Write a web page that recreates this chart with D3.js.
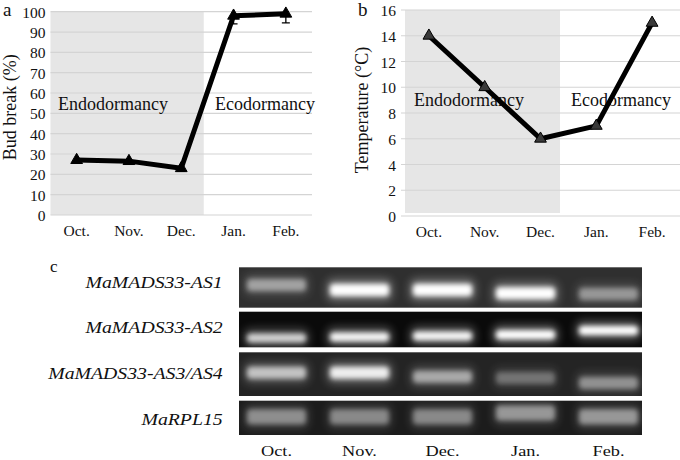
<!DOCTYPE html>
<html>
<head>
<meta charset="utf-8">
<script src="https://cdn.jsdelivr.net/npm/d3@7"></script>
<style>
  body { margin: 0; background: #fff; }
</style>
</head>
<body>
<svg id="fig" width="680" height="460"></svg>
<script>
// data
var months = ['Oct.', 'Nov.', 'Dec.', 'Jan.', 'Feb.'];
var budBreak = [27, 26.5, 23, 98, 99];
var budBreakErr = [1.5, 1.5, 1.5, 4, 4.5];
var budTicks = [0, 10, 20, 30, 40, 50, 60, 70, 80, 90, 100];
var temperature = [14, 10, 6, 7, 15];
var tempTicks = [0, 2, 4, 6, 8, 10, 12, 14, 16];

var genes = ['MaMADS33-AS1', 'MaMADS33-AS2', 'MaMADS33-AS3/AS4', 'MaRPL15'];
var as1 = [0.45, 1, 1, 0.95, 0.4];
var as2 = [0.72, 0.9, 0.9, 1, 0.95];
var as34 = [0.62, 0.85, 0.5, 0.28, 0.4];
var rpl15 = [0.4, 0.38, 0.38, 0.44, 0.44];
// band migration, fraction down the gel strip
var as1Mob = [0.44, 0.56, 0.56, 0.64, 0.66];
var as2Mob = [0.74, 0.71, 0.68, 0.65, 0.53];
var as34Mob = [0.47, 0.47, 0.56, 0.59, 0.7];
var rpl15Mob = [0.47, 0.47, 0.47, 0.36, 0.47];

var serif = 'Liberation Serif';
var svg = d3.select('#fig');

//Line chart panel (a and b)
function linePanel(opt) {
  var g = svg.append('g');
  var x = d3.scaleBand().domain(months).range(opt.xr);
  var y = d3.scaleLinear().domain([0, opt.ymax]).range(opt.yr);

  g.append('rect')
    .attr('x', opt.xr[0] + opt.shadeL)
    .attr('y', y(opt.ymax))
    .attr('width', x.bandwidth() * opt.shadeBands - opt.shadeL)
    .attr('height', y(0) - y(opt.ymax) - opt.shadeB)
    .attr('fill', '#e6e6e6');

  g.selectAll('.grid')
    .data(opt.ticks)
    .enter().append('line')
    .attr('x1', opt.xr[0]).attr('x2', opt.xr[1])
    .attr('y1', function(d) { return y(d); })
    .attr('y2', function(d) { return y(d); })
    .attr('stroke', '#d4d4d4')
    .attr('stroke-width', 1.2);

  var ya = g.append('g')
    .attr('transform', 'translate(' + [opt.xr[0] - 5, 0] + ')')
    .call(d3.axisLeft(y).tickValues(opt.ticks).tickSize(0).tickPadding(0));
  ya.attr('font-family', serif).attr('font-size', 15.5);
  ya.select('.domain').remove();
  ya.selectAll('text').attr('fill', '#111').attr('dy', '0.36em');

  var xa = g.append('g')
    .attr('transform', 'translate(' + [0, y(0) + 7] + ')')
    .call(d3.axisBottom(x).tickSize(0).tickPadding(0));
  xa.attr('font-family', serif).attr('font-size', 15.5);
  xa.select('.domain').remove();
  xa.selectAll('text').attr('fill', '#111').attr('dy', '0.9em');

  g.append('text')
    .text('Endodormancy')
    .attr('x', opt.endoX).attr('y', opt.phaseY)
    .attr('font-family', serif).attr('font-size', 18).attr('fill', '#111');
  g.append('text')
    .text('Ecodormancy')
    .attr('x', opt.ecoX).attr('y', opt.phaseY)
    .attr('font-family', serif).attr('font-size', 18).attr('fill', '#111');

  g.append('text')
    .text(opt.ylabel)
    .attr('text-anchor', 'middle')
    .attr('transform', 'translate(' + [opt.ylabX, (opt.yr[0] + opt.yr[1]) / 2 + opt.ylabDy] + ') rotate(-90)')
    .attr('font-family', serif).attr('font-size', 18).attr('fill', '#111');

  g.append('text')
    .text(opt.tag)
    .attr('x', opt.tagX).attr('y', 16)
    .attr('font-family', serif).attr('font-size', 19).attr('fill', '#111');

  var cx = function(d, i) { return x(months[i]) + x.bandwidth() / 2; };

  if (opt.err) {
    g.selectAll('.err')
      .data(opt.values)
      .enter().append('path')
      .attr('d', function(d, i) {
        var px = cx(d, i), lo = y(d - opt.err[i]), hi = y(Math.min(d + opt.err[i], opt.ymax));
        return 'M' + px + ',' + hi + 'V' + lo + 'M' + (px - 4) + ',' + lo + 'H' + (px + 4);
      })
      .attr('stroke', '#000')
      .attr('stroke-width', 1.3)
      .attr('fill', 'none');
  }

  g.append('path')
    .datum(opt.values)
    .attr('d', d3.line().x(cx).y(function(d) { return y(d); }))
    .attr('fill', 'none')
    .attr('stroke', '#000')
    .attr('stroke-width', 5)
    .attr('stroke-linejoin', 'round');

  g.selectAll('.pt')
    .data(opt.values)
    .enter().append('path')
    .attr('d', d3.symbol().type(d3.symbolTriangle).size(opt.markSize))
    .attr('transform', function(d, i) { return 'translate(' + [cx(d, i), y(d)] + ')'; })
    .attr('fill', opt.markFill)
    .attr('stroke', '#000')
    .attr('stroke-width', 1);
}

linePanel({
  xr: [50.5, 312], yr: [215, 11.7], ymax: 100, ticks: budTicks,
  values: budBreak, err: budBreakErr,
  shadeL: 0, shadeB: 0, shadeBands: 2.93,
  endoX: 58, ecoX: 215, phaseY: 110,
  ylabel: 'Bud break (%)', ylabX: 15.5, ylabDy: -6,
  tag: 'a', tagX: 3,
  markSize: 60, markFill: '#000'
});

linePanel({
  xr: [401, 680], yr: [216, 10], ymax: 16, ticks: tempTicks,
  values: temperature, err: null,
  shadeL: 4, shadeB: 3, shadeBands: 2.85,
  endoX: 414, ecoX: 571, phaseY: 106,
  ylabel: 'Temperature (\u00B0C)', ylabX: 368, ylabDy: -3,
  tag: 'b', tagX: 358,
  markSize: 60, markFill: '#3a3a3a'
});

//Gel panel (c)
var defs = svg.append('defs');
defs.append('filter').attr('id', 'blurCore').attr('x', '-20%').attr('y', '-100%').attr('width', '140%').attr('height', '300%')
  .append('feGaussianBlur').attr('stdDeviation', 2.5);
defs.append('filter').attr('id', 'blurGlow').attr('x', '-30%').attr('y', '-150%').attr('width', '160%').attr('height', '400%')
  .append('feGaussianBlur').attr('stdDeviation', 5);

var lanes = d3.scaleBand().domain(months).range([235, 650]);
var gelX = [239, 642];
var strips = [
  { top: 267.3, h: 40.4, bg: '#2f2f2f', vals: as1, mob: as1Mob, bandH: 12, base: 287.7 },
  { top: 311.7, h: 35.6, bg: '#0a0a0a', vals: as2, mob: as2Mob, bandH: 9, base: 332.7 },
  { top: 352.3, h: 43.7, bg: '#242424', vals: as34, mob: as34Mob, bandH: 12, base: 379.3 },
  { top: 400.7, h: 34.3, bg: '#1c1c1c', vals: rpl15, mob: rpl15Mob, bandH: 15, base: 425 }
];

var gel = svg.append('g');
strips.forEach(function(s, r) {
  gel.append('rect')
    .attr('x', gelX[0]).attr('y', s.top)
    .attr('width', gelX[1] - gelX[0]).attr('height', s.h)
    .attr('fill', s.bg);

  var clip = defs.append('clipPath').attr('id', 'strip' + r);
  clip.append('rect')
    .attr('x', gelX[0]).attr('y', s.top)
    .attr('width', gelX[1] - gelX[0]).attr('height', s.h);

  var sg = gel.append('g').attr('clip-path', 'url(#strip' + r + ')');

  sg.selectAll('.glow')
    .data(s.vals)
    .enter().append('rect')
    .attr('x', function(d, i) { return lanes(months[i]) + 9; })
    .attr('width', lanes.bandwidth() - 18)
    .attr('y', function(d, i) { return s.top + s.mob[i] * s.h - s.bandH / 2 - 5; })
    .attr('height', s.bandH + 10)
    .attr('rx', 6)
    .attr('fill', '#fff')
    .attr('opacity', function(d) { return d * 0.35; })
    .attr('filter', 'url(#blurGlow)');

  sg.selectAll('.band')
    .data(s.vals)
    .enter().append('rect')
    .attr('x', function(d, i) { return lanes(months[i]) + 12; })
    .attr('width', lanes.bandwidth() - 24)
    .attr('y', function(d, i) { return s.top + s.mob[i] * s.h - s.bandH / 2; })
    .attr('height', s.bandH)
    .attr('rx', 4)
    .attr('fill', '#fff')
    .attr('opacity', function(d) { return Math.min(1, d * 1.05); })
    .attr('filter', 'url(#blurCore)');

  gel.append('text')
    .text(genes[r])
    .attr('text-anchor', 'end')
    .attr('transform', 'translate(' + [222.7, s.base] + ') scale(1.13,1)')
    .attr('font-family', serif).attr('font-size', 17.5).attr('font-style', 'italic').attr('fill', '#111');
});

gel.selectAll('.month')
  .data(months)
  .enter().append('text')
  .text(function(d) { return d; })
  .attr('text-anchor', 'middle')
  .attr('transform', function(d) { return 'translate(' + [lanes(d) + lanes.bandwidth() / 2, 456] + ') scale(1.18,1)'; })
  .attr('font-family', serif).attr('font-size', 15.5).attr('fill', '#111');

gel.append('text')
  .text('c')
  .attr('x', 50).attr('y', 272)
  .attr('font-family', serif).attr('font-size', 17).attr('fill', '#111');
</script>
</body>
</html>
